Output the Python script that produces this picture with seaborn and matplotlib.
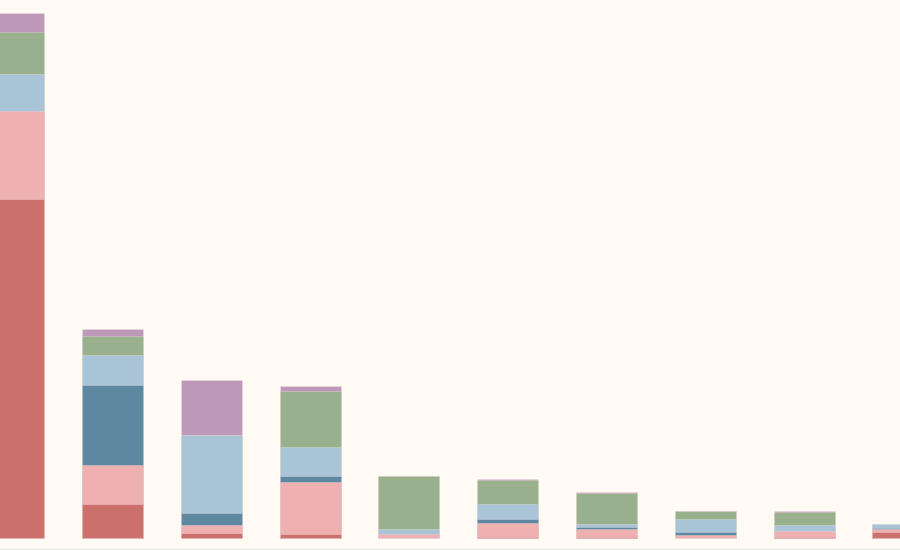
import matplotlib
matplotlib.use("Agg")
import matplotlib.pyplot as plt
import seaborn as sns
import numpy as np
import pandas as pd

categories = ["A", "B", "C", "D", "E", "F", "G", "H", "I", "J"]
series_names = ["S1", "S2", "S3", "S4", "S5", "S6"]  # bottom -> top
s1 = [67.8, 6.8, 1.1, 0.8, 0.0, 0.3, 0.3, 0.1, 0.3, 1.2]
s2 = [17.6, 7.8, 1.5, 10.5, 0.9, 2.8, 1.5, 0.6, 1.1, 0.6]
s3 = [0.0, 16.0, 2.5, 1.2, 0.0, 0.7, 0.5, 0.6, 0.0, 0.3]
s4 = [7.4, 6.0, 15.6, 5.8, 0.9, 3.0, 0.5, 2.5, 1.3, 0.7]
s5 = [8.4, 3.9, 0.0, 11.2, 10.7, 4.8, 6.3, 1.7, 2.5, 0.0]
s6 = [3.8, 1.4, 10.9, 0.9, 0.0, 0.2, 0.2, 0.0, 0.2, 0.0]
colors = ["#cc706c", "#eeb0b0", "#5e88a2", "#a9c4d7", "#99b08c", "#bd98b8"]

bg = "#fffbf4"
sns.set_style("white")
fig = plt.figure(figsize=(9, 5.5), dpi=100, facecolor=bg)
ax = fig.add_axes([0, 0, 1, 1])
ax.set_facecolor(bg)

layers = [s1, s2, s3, s4, s5, s6]
cum = np.cumsum(np.array(layers), axis=0)
for i in range(len(layers) - 1, -1, -1):
    df = pd.DataFrame({"cat": categories, "val": cum[i]})
    sns.barplot(data=df, x="cat", y="val", color=colors[i], width=0.617,
                saturation=1, edgecolor=(1, 0.93, 0.93, 0.35), linewidth=0.6, ax=ax)

ax.set_xlim(-0.139, 8.97)
ax.set_ylim(-2.4, 107.6)
ax.axhline(-2.3, color="#e6e4df", linewidth=2.5)
for sp in ax.spines.values():
    sp.set_visible(False)
ax.set_xticks([])
ax.set_yticks([])
ax.set_xlabel("")
ax.set_ylabel("")
fig.savefig("out.png", dpi=100, facecolor=bg)
